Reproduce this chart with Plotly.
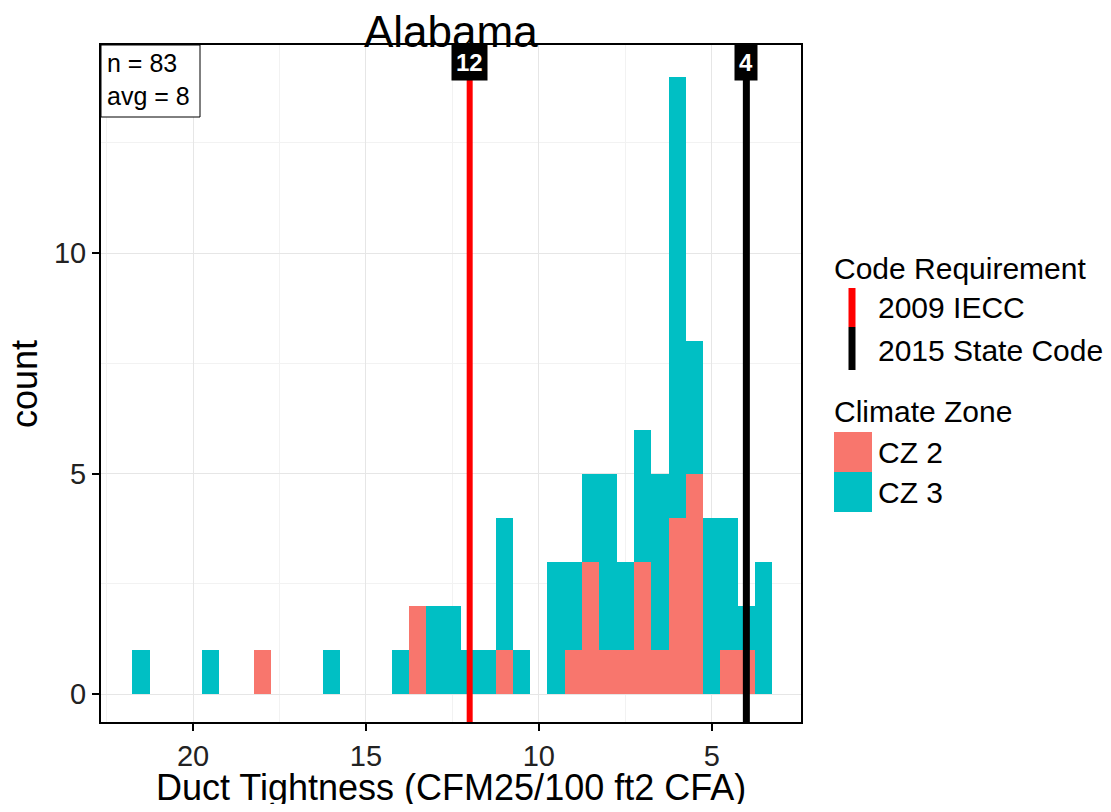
import plotly.graph_objects as go

# ---- data ----
bin_centers = [21.5, 19.5, 18.0, 16.0, 14.0, 13.5, 13.0, 12.5, 12.0, 11.5, 11.0, 10.5,
               9.5, 9.0, 8.5, 8.0, 7.5, 7.0, 6.5, 6.0, 5.5, 5.0, 4.5, 4.0, 3.5]
cz2_counts = [0, 0, 1, 0, 0, 2, 0, 0, 0, 0, 1, 0, 0, 1, 3, 1, 1, 3, 1, 4, 5, 0, 1, 1, 0]
cz3_counts = [1, 1, 0, 1, 1, 0, 2, 2, 1, 1, 3, 1, 3, 2, 2, 4, 2, 3, 4, 10, 3, 4, 3, 1, 3]
bin_width = 0.5

zone_names = ["CZ 2", "CZ 3"]
zone_colors = ["#F8766D", "#00BFC4"]

code_values = [12, 4]
code_names = ["2009 IECC", "2015 State Code"]
code_colors = ["#FF0000", "#000000"]

x_ticks = [5, 10, 15, 20]
y_ticks = [0, 5, 10]

n_obs = 83
avg_val = 8
title_text = "Alabama"

FONT = "Liberation Sans, Arial, sans-serif"

# ---- geometry (page pixels; the page body has an 8px margin) ----
PAGE_W, PAGE_H = 1111, 812
OFF = 8
W, H = PAGE_W - 2 * OFF, PAGE_H - 2 * OFF
L, R, T, B = 101, 801, 45, 722
pw, ph = R - L, B - T


def px(xp):
    return (xp - L) / pw


def py(yp):
    return (B - yp) / ph


fig = go.Figure()
for name, counts, color in zip(zone_names, [cz2_counts, cz3_counts], zone_colors):
    fig.add_trace(go.Bar(x=bin_centers, y=counts, width=bin_width, name=name,
                         marker=dict(color=color, line=dict(width=0)),
                         showlegend=False))

shapes = []
annotations = []

# code requirement lines and labels
for val, color, w in zip(code_values, code_colors, [6, 7]):
    shapes.append(dict(type="line", xref="x", yref="paper", x0=val, x1=val,
                       y0=0, y1=py(72), line=dict(color=color, width=w), layer="above"))
    annotations.append(dict(x=val, xref="x", y=py(63), yref="paper", text="<b>%d</b>" % val,
                            showarrow=False, bgcolor="black", borderpad=4,
                            font=dict(color="white", size=24, family=FONT),
                            xanchor="center", yanchor="middle"))

# n / avg box
shapes.append(dict(type="rect", xref="paper", yref="paper", x0=0, x1=px(200),
                   y0=py(117), y1=1, line=dict(color="black", width=1),
                   fillcolor="white", layer="above"))
annotations.append(dict(x=px(105), y=py(63), xref="paper", yref="paper", text="n = %d" % n_obs,
                        showarrow=False, xanchor="left", yanchor="middle",
                        font=dict(size=25, family=FONT, color="black")))
annotations.append(dict(x=px(105), y=py(96), xref="paper", yref="paper", text="avg = %d" % avg_val,
                        showarrow=False, xanchor="left", yanchor="middle",
                        font=dict(size=25, family=FONT, color="black")))

# title
annotations.append(dict(x=0.5, y=py(31), xref="paper", yref="paper", text=title_text,
                        showarrow=False, xanchor="center", yanchor="middle",
                        font=dict(size=44, family=FONT, color="black")))

# axis titles
annotations.append(dict(x=0.5, y=py(787), xref="paper", yref="paper",
                        text="Duct Tightness (CFM25/100 ft2 CFA)",
                        showarrow=False, xanchor="center", yanchor="middle",
                        font=dict(size=36, family=FONT, color="black")))
annotations.append(dict(x=px(25), y=py(384), xref="paper", yref="paper", text="count",
                        showarrow=False, xanchor="center", yanchor="middle", textangle=-90,
                        font=dict(size=36, family=FONT, color="black")))

# manual legend
leg_font = dict(size=30, family=FONT, color="black")
annotations.append(dict(x=px(832), y=py(268), xref="paper", yref="paper", text="Code Requirement",
                        showarrow=False, xanchor="left", yanchor="middle", font=leg_font))
seg_y = [(288, 327), (327, 370)]
lab_y = [307, 350]
for (ya, yb), ly, name, color in zip(seg_y, lab_y, code_names, code_colors):
    shapes.append(dict(type="line", xref="paper", yref="paper", x0=px(852), x1=px(852),
                       y0=py(ya), y1=py(yb), line=dict(color=color, width=7)))
    annotations.append(dict(x=px(876), y=py(ly), xref="paper", yref="paper", text=name,
                            showarrow=False, xanchor="left", yanchor="middle", font=leg_font))
annotations.append(dict(x=px(832), y=py(412), xref="paper", yref="paper", text="Climate Zone",
                        showarrow=False, xanchor="left", yanchor="middle", font=leg_font))
box_y = [(432, 472), (472, 512)]
zlab_y = [452, 492]
for (ya, yb), ly, name, color in zip(box_y, zlab_y, zone_names, zone_colors):
    shapes.append(dict(type="rect", xref="paper", yref="paper", x0=px(834), x1=px(872),
                       y0=py(yb), y1=py(ya), line=dict(width=0), fillcolor=color))
    annotations.append(dict(x=px(876), y=py(ly), xref="paper", yref="paper", text=name,
                            showarrow=False, xanchor="left", yanchor="middle", font=leg_font))

fig.update_layout(
    width=W, height=H,
    margin=dict(l=L - OFF, r=W - (R - OFF), t=T - OFF, b=H - (B - OFF), pad=0),
    paper_bgcolor="white", plot_bgcolor="white",
    barmode="stack", bargap=0,
    showlegend=False,
    shapes=shapes, annotations=annotations,
    font=dict(family=FONT),
)
fig.update_xaxes(range=[22.66, 2.42], tickvals=x_ticks, ticks="outside", ticklen=7,
                 tickwidth=2, tickcolor="black",
                 tickfont=dict(size=29, family=FONT, color="#222222"),
                 showgrid=True, gridcolor="#e6e6e6", gridwidth=1,
                 minor=dict(tickvals=[7.5, 12.5, 17.5, 22.5], showgrid=True,
                            gridcolor="#f2f2f2", gridwidth=1),
                 showline=True, linecolor="black", linewidth=2, mirror=True, zeroline=False)
fig.update_yaxes(range=[-0.63, 14.72], tickvals=y_ticks, ticks="outside", ticklen=7,
                 tickwidth=2, tickcolor="black",
                 tickfont=dict(size=29, family=FONT, color="#222222"),
                 showgrid=True, gridcolor="#e6e6e6", gridwidth=1,
                 minor=dict(tickvals=[2.5, 7.5, 12.5], showgrid=True,
                            gridcolor="#f2f2f2", gridwidth=1),
                 showline=True, linecolor="black", linewidth=2, mirror=True, zeroline=False)

fig.write_html("out.html")
